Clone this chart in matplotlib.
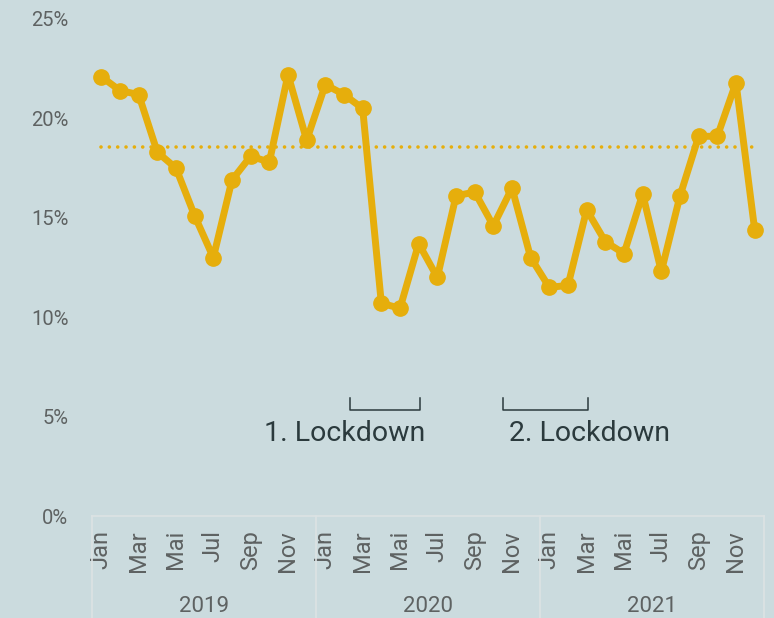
import numpy as np
import matplotlib as mpl
import matplotlib.pyplot as plt
import matplotlib.transforms as mtransforms

mpl.rcParams['font.family'] = ['Roboto', 'DejaVu Sans']

years = ['2019', '2020', '2021']
months = ['Jan', 'Feb', 'Mar', 'Apr', 'Mai', 'Jun', 'Jul', 'Aug', 'Sep', 'Okt', 'Nov', 'Dez']

share_2019 = [22.1, 21.4, 21.2, 18.3, 17.5, 15.1, 13.0, 16.9, 18.1, 17.8, 22.2, 18.9]
share_2020 = [21.7, 21.2, 20.5, 10.7, 10.45, 13.7, 12.0, 16.1, 16.3, 14.6, 16.5, 13.0]
share_2021 = [11.5, 11.6, 15.4, 13.8, 13.2, 16.2, 12.3, 16.1, 19.1, 19.1, 21.8, 14.4]

lockdowns = ['1. Lockdown', '2. Lockdown']
lockdown_span = [(13.3, 17.05), (21.5, 26.05)]
lockdown_text_x = [13.05, 26.15]

bg = '#cbdbde'
gold = '#e6ae0c'
grey = '#5e6262'
dark = '#2b3a3d'
sep = '#dce3e4'

values = np.array(share_2019 + share_2020 + share_2021)
x = np.arange(len(values))

fig = plt.figure(figsize=(7.74, 6.18), dpi=100, facecolor=bg)
ax = fig.add_axes([92/774, 102/618, 672/774, 497/618])
ax.set_facecolor(bg)

# dotted line = 2019 average
ax.hlines(np.mean(share_2019), x[0], x[-1], colors=gold, linewidth=2.6,
          linestyles=(0, (0.01, 2.3)), capstyle='round')
ax.plot(x, values, '-o', color=gold, lw=5, ms=11, solid_joinstyle='round')

ax.set_xlim(-0.5, len(values) - 0.5)
ax.set_ylim(0, 25)
for s in ['top', 'right', 'left']:
    ax.spines[s].set_visible(False)
ax.spines['bottom'].set_color(sep)
ax.spines['bottom'].set_linewidth(1.2)

ax.set_yticks(np.arange(0, 26, 5))
ax.set_yticklabels([f'{v}%' for v in range(0, 26, 5)])
ax.tick_params(axis='y', length=0, pad=17, labelsize=14.5, labelcolor=grey)

ax.set_xticks(x[::2])
ax.set_xticklabels((months * 3)[::2], rotation=90)
ax.tick_params(axis='x', length=0, pad=10, labelsize=17, labelcolor=grey)

trans = mtransforms.blended_transform_factory(ax.transData, ax.transAxes)
for i in range(len(years) + 1):
    ax.plot([12*i - 0.5, 12*i - 0.5], [0, -102/497], color=sep, lw=1.2,
            transform=trans, clip_on=False)
for i, yr in enumerate(years):
    ax.text(12*i + 5.5, -0.183, yr, transform=trans, ha='center', va='center',
            fontsize=16, color=grey)

for name, (a, b), tx in zip(lockdowns, lockdown_span, lockdown_text_x):
    ax.plot([a, a, b, b], [5.95, 5.35, 5.35, 5.95], color=dark, lw=1.1)
    ax.text(tx, 3.75, name, ha='center', va='baseline', fontsize=20.5, color=dark)

fig.savefig('out.png', dpi=100, facecolor=bg)
